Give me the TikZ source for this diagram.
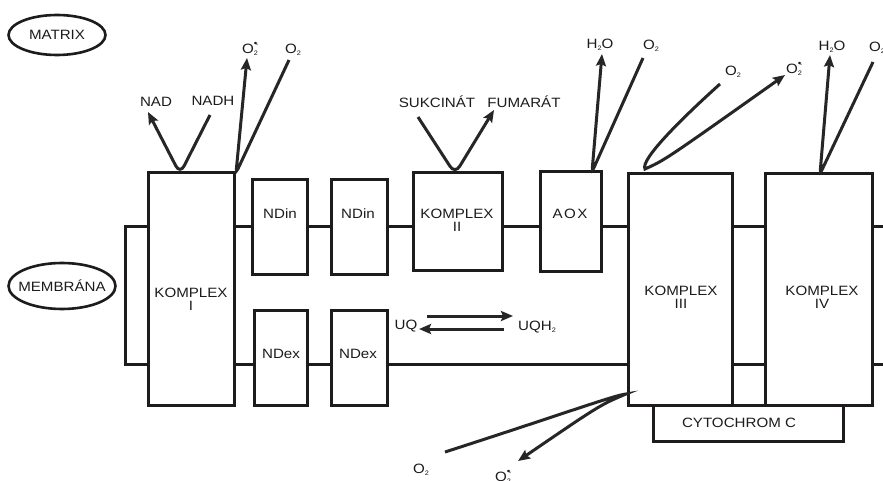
\documentclass[tikz,border=0pt]{standalone}
\usepackage{fontspec}
\setmainfont{Liberation Sans}[FakeStretch=1.12]
\usetikzlibrary{arrows.meta,shapes.geometric}
\definecolor{ink}{HTML}{1E1B1C}
\definecolor{arrink}{HTML}{262626}
\newcommand{\smallsub}[1]{\raisebox{-0.35ex}{\fontsize{6.5}{6.5}\selectfont #1}}
\newcommand{\oxy}{O\smallsub{2}}
\newcommand{\oxsup}{O\rlap{\raisebox{0.9ex}{\fontsize{9}{9}\selectfont\textbullet\kern-1.5pt\fontsize{7}{7}\selectfont-}}\smallsub{2}}
\newcommand{\water}{H\smallsub{2}O}
\begin{document}
\begin{tikzpicture}[x=1pt,y=-1pt,
  box/.style={draw=ink,line width=3pt,fill=white,inner sep=0pt,outer sep=0pt},
  lbl/.style={font=\fontsize{13.5}{15}\selectfont,inner sep=0pt,align=center,text=ink},
  memb/.style={draw=ink,line width=3pt},
  oval/.style={draw=ink,line width=2.6pt,ellipse,inner sep=0pt},
  arr/.style={draw=arrink,line width=3pt,-{Stealth[length=12pt,width=10pt,inset=2pt]}},
  ln/.style={draw=arrink,line width=3pt}]
\useasboundingbox (0,0) rectangle (883,481);
\fill[white] (0,0) rectangle (883,481);
% labels
\node[oval,minimum width=97pt,minimum height=40pt] (matrix) at (57,35) {};
\node[lbl] (matrixt) at (57,35) {MATRIX};
\node[oval,minimum width=107pt,minimum height=46pt] (memb) at (62,286) {};
\node[lbl] (membt) at (62,286) {MEMBRÁNA};
% membrane levels
\coordinate (mt) at (0,226);
\coordinate (mb) at (0,364);
\coordinate (lft) at (125,0);
\coordinate (rgt) at (883,0);
% boxes
\node[box,minimum width=86pt,minimum height=232pt] (k1) at (191,289) {};
\node[box,minimum width=55pt,minimum height=94pt] (ndin1) at (279.5,227) {};
\node[box,minimum width=56pt,minimum height=94pt] (ndin2) at (359,227) {};
\node[box,minimum width=53pt,minimum height=95pt] (ndex1) at (280.5,357.5) {};
\node[box,minimum width=56pt,minimum height=95pt] (ndex2) at (359,357.5) {};
\node[box,minimum width=89pt,minimum height=97pt] (k2) at (457.5,221.5) {};
\node[box,minimum width=61pt,minimum height=99pt] (aox) at (570.5,221.5) {};
\node[box,minimum width=104pt,minimum height=231pt] (k3) at (680,289.5) {};
\node[box,minimum width=107pt,minimum height=231pt] (k4) at (818.5,289.5) {};
\node[box,minimum width=190pt,minimum height=36pt] (cyt) at (748,423) {};
% membrane lines
\draw[memb] (k1.west |- mt) -- (lft |- mt) -- (lft |- mb) -- (k1.west |- mb);
\draw[memb] (k1.east |- mt) -- (ndin1.west |- mt);
\draw[memb] (ndin1.east |- mt) -- (ndin2.west |- mt);
\draw[memb] (ndin2.east |- mt) -- (k2.west |- mt);
\draw[memb] (k2.east |- mt) -- (aox.west |- mt);
\draw[memb] (aox.east |- mt) -- (k3.west |- mt);
\draw[memb] (k3.east |- mt) -- (k4.west |- mt);
\draw[memb] (k4.east |- mt) -- (rgt |- mt);
\draw[memb] (k1.east |- mb) -- (ndex1.west |- mb);
\draw[memb] (ndex1.east |- mb) -- (ndex2.west |- mb);
\draw[memb] (ndex2.east |- mb) -- (k3.west |- mb);
\draw[memb] (k3.east |- mb) -- (k4.west |- mb);
\draw[memb] (k4.east |- mb) -- (rgt |- mb);
% box texts
\node[lbl] (k1t) at (191,299) {KOMPLEX\\[-2pt]I};
\node[lbl] (ndin1t) at (280,214) {NDin};
\node[lbl] (ndin2t) at (358,214) {NDin};
\node[lbl] (ndex1t) at (281,354) {NDex};
\node[lbl] (ndex2t) at (358,354) {NDex};
\node[lbl] (k2t) at (457,220) {KOMPLEX\\[-2pt]II};
\node[lbl] (aoxt) at (570,214) {A\kern1.5pt O\kern1.5pt X};
\node[lbl] (k3t) at (681,297) {KOMPLEX\\[-2pt]III};
\node[lbl] (k4t) at (822,297) {KOMPLEX\\[-2pt]IV};
\node[lbl] (cytt) at (739,423) {CYTOCHROM C};
% reaction labels
\node[lbl] (nad) at (156,102) {NAD};
\node[lbl] (nadh) at (213,101) {NADH};
\node[lbl] (o2m1) at (250,49) {\oxsup};
\node[lbl] (o21) at (293,50) {\oxy};
\node[lbl] (suk) at (437,102) {SUKCINÁT};
\node[lbl] (fum) at (524,102) {FUMARÁT};
\node[lbl] (h2o1) at (600,45) {\water};
\node[lbl] (o22) at (651,46) {\oxy};
\node[lbl] (o23) at (733,72) {\oxy};
\node[lbl] (o2m3) at (794,69) {\oxsup};
\node[lbl] (h2o4) at (832,47) {\water};
\node[lbl,anchor=west] (o24) at (869,48) {\oxy};
\node[lbl] (o25) at (421,470) {\oxy};
\node[lbl] (o2m5) at (503,477) {\oxsup};
\node[lbl] (uq) at (406,326) {UQ};
\node[lbl] (uqh) at (537,327) {UQH\smallsub{2}};
% anchor points for reactions
\coordinate (v1) at (180,174);
\coordinate (v1b) at (236,173);
\coordinate (v2) at (455,174);
\coordinate (v3) at (592,172);
\coordinate (v4) at (645,169);
\coordinate (v5) at (820,174);
\coordinate (v6) at (626,394);
\coordinate (nadtip) at (148,112);
\coordinate (nadhs) at (210,115);
\coordinate (o2m1tip) at (247,58);
\coordinate (o21s) at (289,60);
\coordinate (suks) at (418,117);
\coordinate (fumtip) at (494,110);
\coordinate (h2o1tip) at (602,54);
\coordinate (o22s) at (643,58);
\coordinate (o23s) at (720,84);
\coordinate (o2m3tip) at (785,75);
\coordinate (h2o4tip) at (830,55);
\coordinate (o24s) at (873,62);
\coordinate (o25s) at (445,452);
\coordinate (o2m5tip) at (518,461);
\coordinate (uqa) at (427,316);
\coordinate (uqb) at (513,316);
\coordinate (uqc) at (504,329);
\coordinate (uqd) at (419,329);
% reactions
\draw[arr,rounded corners=9pt] (nadhs) -- (v1) -- (nadtip);
\draw[arr,rounded corners=4pt] (o21s) -- (v1b) -- (o2m1tip);
\draw[arr,rounded corners=9pt] (suks) -- (v2) -- (fumtip);
\draw[arr,rounded corners=4pt] (o22s) -- (v3) -- (h2o1tip);
\draw[arr] (o23s) .. controls (680,120) and (640,160) .. (v4) .. controls (665,160) .. (o2m3tip);
\draw[arr,rounded corners=4pt] (o24s) -- (v5) -- (h2o4tip);
\draw[arr] (o25s) .. controls (560,415) and (615,395) .. (v6) .. controls (600,405) .. (o2m5tip);
\draw[arr] (uqa) -- (uqb);
\draw[arr] (uqc) -- (uqd);
\end{tikzpicture}
\end{document}
